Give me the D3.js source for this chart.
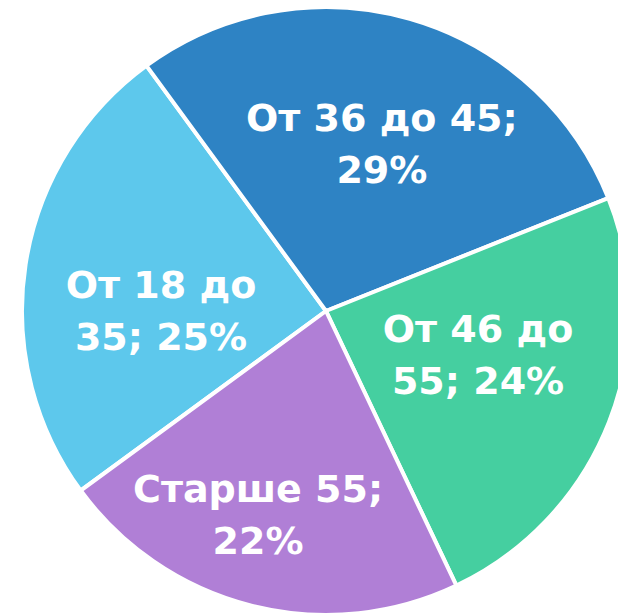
<!DOCTYPE html>
<html>
<head>
<meta charset="utf-8">
<script src="https://cdn.jsdelivr.net/npm/d3@7"></script>
<style>
  html, body { margin: 0; padding: 0; background: #fff; }
  svg { display: block; }
</style>
</head>
<body>
<div id="chart"></div>
<script>
var categories = ["От 18 до 35", "От 36 до 45", "От 46 до 55", "Старше 55"];
var values = [25, 29, 24, 22];
var colors = ["#5dc8ec", "#2e83c4", "#45cfa0", "#b07fd6"];

// label layout: words kept on the first line, distance from centre, angle nudge (deg)
var labelLayout = [
  { words: 3, dist: 165, nudge: -8.5 },
  { words: 4, dist: 177, nudge: 2.4 },
  { words: 3, dist: 158, nudge: -5.6 },
  { words: 2, dist: 214, nudge: 4.3 }
];

var vars = {
  width: 618,
  height: 616,
  cx: 326,
  cy: 311,
  radius: 304,
  startDeg: -126.2
};

var rad = function(d) { return d * Math.PI / 180; };

var svg = d3.select("#chart").append("svg")
  .attr("width", vars.width)
  .attr("height", vars.height);

var g = svg.append("g")
  .attr("transform", "translate(" + vars.cx + "," + vars.cy + ")");

var data = categories.map(function(c, i) {
  return { name: c, value: values[i], color: colors[i], layout: labelLayout[i] };
});

var pie = d3.pie()
  .value(function(d) { return d.value; })
  .sort(null)
  .startAngle(rad(vars.startDeg))
  .endAngle(rad(vars.startDeg + 360));

var arc = d3.arc()
  .innerRadius(0)
  .outerRadius(vars.radius);

var arcs = pie(data);

g.selectAll("path.slice")
  .data(arcs)
  .enter().append("path")
  .attr("class", "slice")
  .attr("d", arc)
  .attr("fill", function(d) { return d.data.color; })
  .attr("stroke", "#fff")
  .attr("stroke-width", 4)
  .attr("stroke-linejoin", "miter");

var lineH = 52;

var labels = g.selectAll("text.label")
  .data(arcs)
  .enter().append("text")
  .attr("class", "label")
  .attr("text-anchor", "middle")
  .attr("font-family", "'DejaVu Sans', Verdana, sans-serif")
  .attr("font-weight", "bold")
  .attr("font-size", 38)
  .attr("fill", "#fff")
  .attr("transform", function(d) {
    var a = (d.startAngle + d.endAngle) / 2 + rad(d.data.layout.nudge);
    var x = Math.sin(a) * d.data.layout.dist;
    var y = -Math.cos(a) * d.data.layout.dist;
    return "translate(" + x + "," + y + ")";
  });

labels.each(function(d) {
  var full = d.data.name + "; " + d.data.value + "%";
  var words = full.split(" ");
  var lines = [words.slice(0, d.data.layout.words).join(" "),
               words.slice(d.data.layout.words).join(" ")];
  var t = d3.select(this);
  lines.forEach(function(l, i) {
    t.append("tspan")
      .attr("x", 0)
      .attr("y", (i - 0.5) * lineH + 14)
      .text(l);
  });
});
</script>
</body>
</html>
